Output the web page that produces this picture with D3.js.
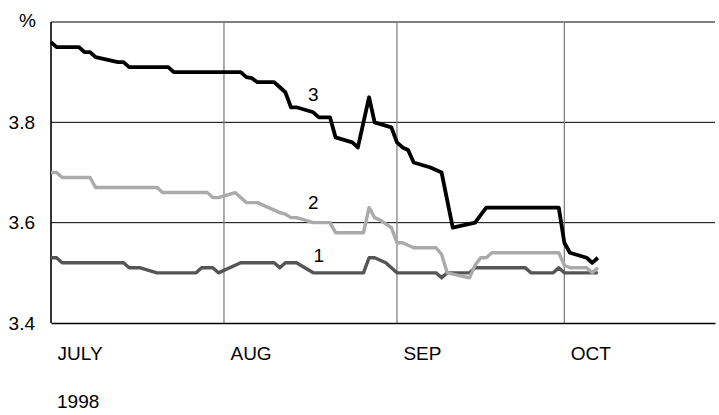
<!DOCTYPE html>
<html><head><meta charset="utf-8">
<script src="https://cdn.jsdelivr.net/npm/d3@7"></script>
<style>
html,body{margin:0;padding:0;background:#fff;}
svg text{font-family:"Liberation Sans",Arial,sans-serif;fill:#000;}
</style></head>
<body><svg id="c" width="719" height="415"></svg>
<script>
// ---- data ----
const monthTicks = ["1998-07-01","1998-08-01","1998-09-01","1998-10-01"];
const monthLabels = ["JULY","AUG","SEP","OCT"];
const yTicks = [3.4, 3.6, 3.8];
const yearLabel = "1998";
const unitLabel = "%";

const s3Dates = ["1998-07-01","1998-07-02","1998-07-06","1998-07-07","1998-07-08","1998-07-09","1998-07-11","1998-07-13","1998-07-14","1998-07-15","1998-07-22","1998-07-23","1998-08-04","1998-08-05","1998-08-06","1998-08-07","1998-08-10","1998-08-11","1998-08-12","1998-08-13","1998-08-14","1998-08-17","1998-08-18","1998-08-20","1998-08-21","1998-08-24","1998-08-25","1998-08-27","1998-08-28","1998-08-31","1998-09-01","1998-09-02","1998-09-03","1998-09-04","1998-09-07","1998-09-09","1998-09-11","1998-09-15","1998-09-17","1998-09-30","1998-10-01","1998-10-02","1998-10-05","1998-10-06","1998-10-07"];
const s3Values = [3.96,3.95,3.95,3.94,3.94,3.93,3.925,3.92,3.92,3.91,3.91,3.90,3.90,3.89,3.888,3.88,3.88,3.87,3.86,3.83,3.83,3.82,3.81,3.81,3.77,3.76,3.75,3.85,3.80,3.79,3.76,3.75,3.745,3.72,3.71,3.70,3.59,3.60,3.63,3.63,3.56,3.54,3.53,3.52,3.53];

const s2Dates = ["1998-07-01","1998-07-02","1998-07-03","1998-07-08","1998-07-09","1998-07-20","1998-07-21","1998-07-29","1998-07-30","1998-07-31","1998-08-03","1998-08-05","1998-08-07","1998-08-09","1998-08-11","1998-08-12","1998-08-13","1998-08-14","1998-08-17","1998-08-20","1998-08-21","1998-08-26","1998-08-27","1998-08-28","1998-08-29","1998-08-31","1998-09-01","1998-09-02","1998-09-04","1998-09-08","1998-09-09","1998-09-10","1998-09-14","1998-09-15","1998-09-16","1998-09-17","1998-09-18","1998-09-30","1998-10-01","1998-10-02","1998-10-05","1998-10-06","1998-10-07"];
const s2Values = [3.70,3.70,3.69,3.69,3.67,3.67,3.66,3.66,3.65,3.65,3.66,3.64,3.64,3.63,3.62,3.617,3.61,3.61,3.60,3.60,3.58,3.58,3.63,3.61,3.605,3.59,3.56,3.56,3.55,3.55,3.537,3.50,3.49,3.515,3.53,3.53,3.54,3.54,3.515,3.51,3.51,3.50,3.51];

const s1Dates = ["1998-07-01","1998-07-02","1998-07-03","1998-07-14","1998-07-15","1998-07-17","1998-07-20","1998-07-27","1998-07-28","1998-07-30","1998-07-31","1998-08-04","1998-08-10","1998-08-11","1998-08-12","1998-08-14","1998-08-17","1998-08-26","1998-08-27","1998-08-28","1998-08-30","1998-09-01","1998-09-08","1998-09-09","1998-09-10","1998-09-14","1998-09-15","1998-09-24","1998-09-25","1998-09-29","1998-09-30","1998-10-01","1998-10-07"];
const s1Values = [3.53,3.53,3.52,3.52,3.51,3.51,3.50,3.50,3.51,3.51,3.50,3.52,3.52,3.51,3.52,3.52,3.50,3.50,3.53,3.53,3.52,3.50,3.50,3.49,3.50,3.50,3.51,3.51,3.50,3.50,3.51,3.50,3.50];

const seriesNames = ["1","2","3"];
const seriesColors = ["#555555","#aaaaaa","#000000"];
const seriesLabelDates = ["1998-08-18","1998-08-17","1998-08-17"];
const seriesLabelValues = [3.534, 3.641, 3.855];

// ---- chart ----
const FS = 19;
const parse = d3.timeParse("%Y-%m-%d");
const svg = d3.select("#c");
const L = 51, R = 715, T = 22, B = 323;
const x = d3.scaleTime().domain([parse("1998-07-01"), parse("1998-10-28")]).range([L, R]);
const y = d3.scaleLinear().domain([3.4, 4.0]).range([B, T]);

// horizontal gridlines
svg.append("g").selectAll("line").data([3.6, 3.8, 4.0]).join("line")
  .attr("x1", L).attr("x2", R).attr("y1", d => y(d)).attr("y2", d => y(d))
  .attr("stroke", "#000").attr("stroke-width", 1);
// vertical gridlines
svg.append("g").selectAll("line").data(monthTicks.slice(1).map(parse)).join("line")
  .attr("x1", d => x(d)).attr("x2", d => x(d)).attr("y1", T).attr("y2", B)
  .attr("stroke", "#808080").attr("stroke-width", 1.3);

// y axis
const yAx = svg.append("g").attr("transform", `translate(${L},0)`)
  .call(d3.axisLeft(y).tickValues(yTicks).tickSize(0).tickPadding(16).tickFormat(d3.format(".1f")));
yAx.select(".domain").remove();
yAx.selectAll("text").attr("font-size", FS).attr("font-family", "Liberation Sans, Arial, sans-serif").attr("fill", "#000");
svg.append("line").attr("x1", L).attr("x2", L).attr("y1", T).attr("y2", B)
  .attr("stroke", "#000").attr("stroke-width", 1.6);

// x axis
const xAx = svg.append("g").attr("transform", `translate(0,${B})`)
  .call(d3.axisBottom(x).tickValues(monthTicks.map(parse)).tickSize(0).tickPadding(24)
    .tickFormat((d, i) => monthLabels[i]));
xAx.select(".domain").attr("stroke", "#000").attr("stroke-width", 1.6);
xAx.selectAll("text").attr("font-size", FS).attr("text-anchor", "start").attr("dx", 6)
  .attr("font-family", "Liberation Sans, Arial, sans-serif").attr("fill", "#000");

svg.append("text").attr("x", L + 6).attr("y", 408).attr("font-size", FS).text(yearLabel);
svg.append("text").attr("x", 36).attr("y", 27).attr("font-size", FS).attr("text-anchor", "end").text(unitLabel);

// series
const all = [
  s1Dates.map((d, i) => ({date: parse(d), value: s1Values[i]})),
  s2Dates.map((d, i) => ({date: parse(d), value: s2Values[i]})),
  s3Dates.map((d, i) => ({date: parse(d), value: s3Values[i]}))
];
const line = d3.line().x(d => x(d.date)).y(d => y(d.value));
const widths = [3.4, 3.4, 3.8];
all.forEach((s, i) => {
  svg.append("path").datum(s).attr("d", line).attr("fill", "none")
    .attr("stroke", seriesColors[i]).attr("stroke-width", widths[i])
    .attr("stroke-linejoin", "round");
});
seriesNames.forEach((n, i) => {
  svg.append("text").attr("x", x(parse(seriesLabelDates[i]))).attr("y", y(seriesLabelValues[i]))
    .attr("font-size", FS).attr("text-anchor", "middle").attr("dy", "0.35em").text(n);
});
</script></body></html>
